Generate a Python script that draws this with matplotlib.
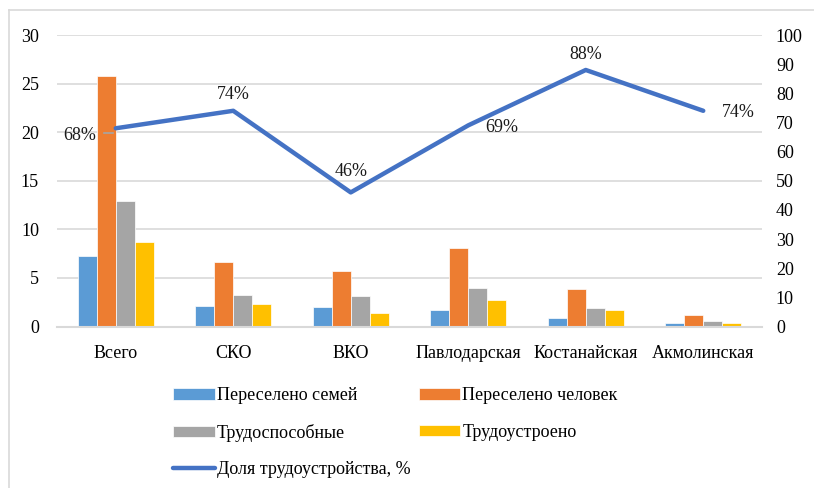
import matplotlib
matplotlib.use("Agg")
import matplotlib.pyplot as plt
import numpy as np
from matplotlib.lines import Line2D

categories = ["Всего", "СКО", "ВКО", "Павлодарская", "Костанайская", "Акмолинская"]
families = [7.3, 2.1, 2.0, 1.7, 0.9, 0.35]
people = [25.8, 6.6, 5.7, 8.1, 3.9, 1.2]
able = [12.9, 3.2, 3.1, 4.0, 1.9, 0.55]
employed = [8.7, 2.3, 1.4, 2.7, 1.65, 0.4]
share = [68, 74, 46, 69, 88, 74]
share_labels = ["68%", "74%", "46%", "69%", "88%", "74%"]
series_names = ["Переселено семей", "Переселено человек", "Трудоспособные", "Трудоустроено"]
line_name = "Доля трудоустройства, %"

colors = ["#5B9BD5", "#ED7D31", "#A5A5A5", "#FFC000"]
line_color = "#4472C4"
grid_color = "#D9D9D9"

plt.rcParams['font.family'] = ['Liberation Serif', 'DejaVu Serif']

W, H = 814, 488
fig = plt.figure(figsize=(W / 100, H / 100), dpi=100)
ax = fig.add_axes([57 / W, 1 - 326.5 / H, (762 - 57) / W, (326.5 - 35) / H])

x = np.arange(len(categories))
bw = 0.162
data = [families, people, able, employed]
bars = []
for i, (vals, c) in enumerate(zip(data, colors)):
    b = ax.bar(x + (i - 1.5) * bw, vals, bw, color=c, edgecolor="white", linewidth=0.5, zorder=2)
    bars.append(b)

ax.set_xlim(-0.5, len(categories) - 0.5)
ax.set_ylim(0, 30)
ax.set_yticks(np.arange(0, 31, 5))
ax.yaxis.grid(True, color=grid_color, linewidth=1.2, zorder=0)
ax.set_axisbelow(True)
for s in ["top", "right", "left"]:
    ax.spines[s].set_visible(False)
ax.spines["bottom"].set_color(grid_color)
ax.spines["bottom"].set_linewidth(1.5)
ax.tick_params(axis="both", length=0, labelsize=13)
ax.tick_params(axis="y", pad=13)
ax.tick_params(axis="x", pad=13)
ax.set_xticks(x)
ax.set_xticklabels(categories)

ax2 = ax.twinx()
ax2.set_ylim(0, 100)
ax2.set_yticks(np.arange(0, 101, 10))
for s in ["top", "right", "left", "bottom"]:
    ax2.spines[s].set_visible(False)
ax2.tick_params(axis="y", length=0, labelsize=13, pad=10)
ln, = ax2.plot(x, share, color=line_color, linewidth=3.2, solid_capstyle="round", zorder=3)

offsets = [(-26, -5), (0, 12), (0, 15), (24, -1.5), (0, 11), (25, -1.5)]
for xi, v, lab, off in zip(x, share, share_labels, offsets):
    ax2.annotate(lab, (xi, v), xytext=off, textcoords="offset points",
                 ha="center", va="center", fontsize=13, color="#1a1a1a", zorder=4)
# small leader for the first label
ax2.plot([x[0] - 0.1, x[0] - 0.02], [66.5, 66.5], color="#A5A5A5", linewidth=1.2, zorder=2)

handles = [bars[0], bars[2], ln, bars[1], bars[3]]
labels = [series_names[0], series_names[2], line_name, series_names[1], series_names[3]]
leg = fig.legend(handles, labels, loc="upper left", bbox_to_anchor=(166 / W, 1 - 380 / H),
                 ncol=2, frameon=False, fontsize=13, handlelength=2.3, handleheight=0.6,
                 handletextpad=0.12, columnspacing=0.45, labelspacing=1.08, borderaxespad=0)

# frame lines
fig.add_artist(Line2D([9 / W, 9 / W], [0, 1 - 10 / H], color=grid_color, linewidth=1.2))
fig.add_artist(Line2D([9 / W, 1], [1 - 10 / H, 1 - 10 / H], color=grid_color, linewidth=1.2))

fig.savefig("out.png", dpi=100, facecolor="white")
